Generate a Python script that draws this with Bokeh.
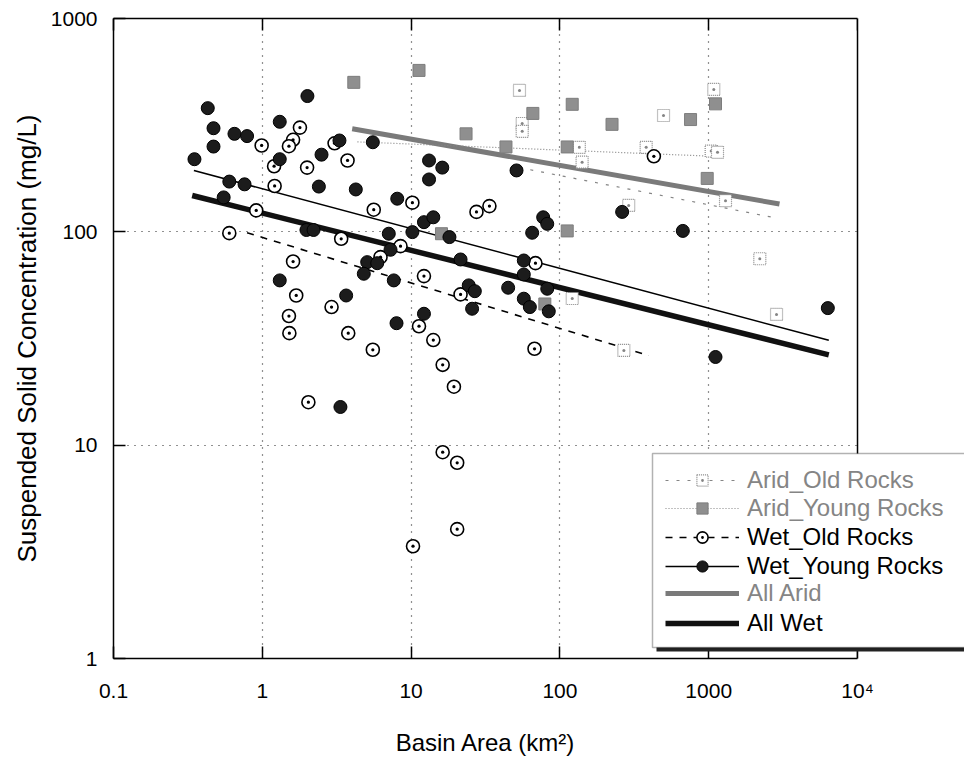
from bokeh.plotting import figure
from bokeh.models import (LogAxis, FixedTicker, Legend, LegendItem, BoxAnnotation, Range1d, Span)
from bokeh.embed import file_html
from bokeh.resources import INLINE

# ---------------- data ----------------
arid_old_area = [53.5, 55.8, 55.8, 135, 141, 497, 380, 1082, 1039, 1146, 290, 1297, 2205, 2856, 121, 269]
arid_old_ssc = [460, 322, 296, 249, 212, 351, 249, 465, 239, 236, 133, 140, 74.8, 41.0, 48.7, 27.8]

arid_young_area = [4.12, 11.3, 23.4, 43.4, 65.8, 121, 224, 112, 755, 1111, 977, 112, 16.0, 79.2]
arid_young_ssc = [502, 571, 288, 250, 359, 396, 319, 250, 336, 398, 178, 101, 98, 45.9]

wet_old_area = [1.79, 1.61, 1.51, 0.99, 3.06, 3.74, 1.20, 2.00, 1.21, 0.91,
                5.61, 0.60, 3.39, 6.23, 1.61, 1.69, 2.92, 1.51, 1.52, 3.78,
                5.53, 2.04, 10.2, 27.5, 33.6, 8.49, 68.5, 12.2, 21.5, 11.3,
                14.1, 16.3, 19.4, 67.5, 16.3, 20.4, 20.4, 10.3, 428]
wet_old_ssc = [308, 270, 252, 254, 260, 216, 203, 200, 164, 126,
               127, 98.6, 92.8, 76.1, 72.6, 50.3, 44.4, 40.3, 33.5, 33.5,
               28.0, 15.9, 137, 124, 132, 85.7, 71.3, 62.0, 50.9, 36.1,
               31.1, 23.8, 18.8, 28.3, 9.27, 8.27, 4.04, 3.36, 226]

wet_young_area = [0.43, 0.47, 0.47, 0.35, 0.65, 0.79, 2.01, 1.31, 1.31, 2.50,
                  3.30, 5.53, 0.60, 0.76, 0.55, 2.40, 4.25, 8.07, 1.98, 2.21,
                  7.08, 7.27, 5.07, 5.92, 4.81, 7.65, 1.31, 3.66, 3.35, 7.98,
                  13.2, 16.2, 13.2, 51.1, 12.2, 14.1, 10.2, 18.1, 65.1, 77.2,
                  82.2, 262, 21.5, 57.2, 57.2, 82.2, 44.9, 24.4, 26.8, 25.7,
                  12.2, 57.2, 62.8, 84.2, 670, 6317, 1111]
wet_young_ssc = [380, 306, 251, 219, 288, 281, 433, 328, 219, 230,
                 268, 263, 172, 167, 145, 163, 158, 143, 102, 102,
                 98, 82.4, 72.1, 71.3, 63.6, 59.2, 59.2, 50.3, 15.1, 37.3,
                 216, 200, 176, 194, 111, 117, 99.7, 94.5, 99, 117,
                 109, 124, 74.2, 73.4, 63.1, 54.1, 54.7, 56.1, 52.7, 43.6,
                 41.3, 48.6, 44.4, 42.4, 101, 43.9, 25.9]

# regression lines (end points)
all_wet_x = [0.338, 6412]
all_wet_y = [148, 26.5]
wet_young_fit_x = [0.347, 6412]
wet_young_fit_y = [194, 31.0]
wet_old_fit_x = [0.79, 396]
wet_old_fit_y = [99, 26.3]
all_arid_x = [4.02, 2991]
all_arid_y = [304, 135]
arid_young_fit_x = [4.36, 1078]
arid_young_fit_y = [264, 226]
arid_old_fit_x = [53.5, 2856]
arid_old_fit_y = [200, 116]

x_ticks = [0.1, 1, 10, 100, 1000, 10000]
x_tick_labels = ["0.1", "1", "10", "100", "1000", "10\u2074"]
y_ticks = [1, 10, 100, 1000]
y_tick_labels = ["1", "10", "100", "1000"]
x_min, x_max = 0.1, 10000
y_min, y_max = 1, 1000
x_view_max = 52360   # the drawing area runs on to the window edge (legend hangs over)

FONT = "Liberation Sans"
GRAY = "#858585"

p = figure(width=964, height=770, x_axis_type="log", y_axis_type="log",
           x_range=Range1d(x_min, x_view_max), y_range=Range1d(y_min, y_max),
           output_backend="svg", toolbar_location=None,
           min_border_left=113, min_border_right=0, min_border_top=18, min_border_bottom=112,
           background_fill_color="white", border_fill_color="white")
p.outline_line_color = None

# axes
p.xaxis.ticker = FixedTicker(ticks=x_ticks)
p.yaxis.ticker = FixedTicker(ticks=y_ticks)
p.xaxis.bounds = (x_min, x_max)
p.xaxis.major_label_overrides = {float(t): l for t, l in zip(x_ticks, x_tick_labels)}
p.yaxis.major_label_overrides = {float(t): l for t, l in zip(y_ticks, y_tick_labels)}
for ax in (p.xaxis[0], p.yaxis[0]):
    ax.major_tick_in = 12
    ax.major_tick_out = 0
    ax.minor_tick_in = 0
    ax.minor_tick_out = 0
    ax.axis_line_color = "black"
    ax.axis_line_width = 1.5
    ax.major_tick_line_width = 1.5
    ax.major_label_text_font = FONT
    ax.major_label_text_font_size = "21px"
    ax.major_label_text_color = "black"
    ax.axis_label_text_font = FONT
    ax.axis_label_text_font_style = "normal"
    ax.axis_label_text_color = "black"
# trailing no-break spaces keep the label centred under the plot box, not the wider drawing area
p.xaxis.axis_label = "Basin Area (km\u00b2)" + "\u00a0" * 16
p.yaxis.axis_label = "Suspended Solid Concentration (mg/L)"
p.xaxis.axis_label_text_font_size = "24px"
p.yaxis.axis_label_text_font_size = "26px"
p.xaxis.major_label_standoff = 20
p.xaxis.axis_label_standoff = 24
p.yaxis.major_label_standoff = 16
p.yaxis.axis_label_standoff = 6

top_ax = LogAxis(ticker=FixedTicker(ticks=x_ticks), bounds=(x_min, x_max),
                 major_label_text_font_size="9px", major_label_text_alpha=0.0,
                 major_tick_in=12, major_tick_out=0, minor_tick_in=0, minor_tick_out=0,
                 major_label_standoff=0, major_tick_line_width=1.5, axis_line_width=1.5)
p.add_layout(top_ax, "above")

# grid
p.grid.grid_line_color = "#222222"
p.grid.grid_line_dash = "1 6"
p.grid.grid_line_width = 1.2
p.xgrid.ticker = FixedTicker(ticks=x_ticks[:-1])
p.ygrid.ticker = FixedTicker(ticks=y_ticks)

# white cover for the area right of the plot box
cover = BoxAnnotation(left=x_max, fill_color="white", fill_alpha=1.0, line_alpha=0)
p.add_layout(cover)
right_edge = Span(location=x_max, dimension="height", line_color="black", line_width=1.5)
p.add_layout(right_edge)

# regression lines
r_all_arid = p.line(all_arid_x, all_arid_y, line_color="#7a7a7a", line_width=5)
r_arid_old_fit = p.line(arid_old_fit_x, arid_old_fit_y, line_color=GRAY, line_width=1.2, line_dash="3 8")
r_arid_young_fit = p.line(arid_young_fit_x, arid_young_fit_y, line_color=GRAY, line_width=1.2, line_dash="1 2")
r_all_wet = p.line(all_wet_x, all_wet_y, line_color="#111111", line_width=5.5)
r_wet_young_fit = p.line(wet_young_fit_x, wet_young_fit_y, line_color="black", line_width=1.6)
r_wet_old_fit = p.line(wet_old_fit_x, wet_old_fit_y, line_color="black", line_width=1.6, line_dash="7 7")

# points
r_arid_old = p.scatter(arid_old_area, arid_old_ssc, marker="square_dot", size=12,
                       fill_color="white", line_color=GRAY, line_width=1.2, line_dash="1 1")
r_wet_old = p.scatter(wet_old_area, wet_old_ssc, marker="circle_dot", size=13,
                      fill_color="white", line_color="black", line_width=1.6)
r_arid_young = p.scatter(arid_young_area, arid_young_ssc, marker="square", size=12,
                         fill_color="#8f8f8f", line_color="#7d7d7d", line_width=1)
r_wet_young = p.scatter(wet_young_area, wet_young_ssc, marker="circle", size=13,
                        fill_color="#1c1c1c", line_color="black", line_width=1)

# legend frame (with a drop shadow)
shadow = BoxAnnotation(left=543, right=900, top=201, bottom=7,
                       left_units="screen", right_units="screen", top_units="screen", bottom_units="screen",
                       fill_color="#222222", fill_alpha=1.0, line_alpha=0)
frame_box = BoxAnnotation(left=539, right=900, top=205, bottom=11,
                          left_units="screen", right_units="screen", top_units="screen", bottom_units="screen",
                          fill_color="white", fill_alpha=1.0, line_color="black", line_width=1.5)
p.add_layout(shadow)
p.add_layout(frame_box)

legend_rows = [
    ("Arid_Old Rocks", [r_arid_old_fit, r_arid_old], GRAY, 164),
    ("Arid_Young Rocks", [r_arid_young_fit, r_arid_young], GRAY, 136),
    ("Wet_Old Rocks", [r_wet_old_fit, r_wet_old], "black", 107),
    ("Wet_Young Rocks", [r_wet_young_fit, r_wet_young], "black", 78),
    ("All Arid", [r_all_arid], GRAY, 51),
    ("All Wet", [r_all_wet], "black", 21),
]
for label, rends, color, vy in legend_rows:
    lg = Legend(items=[LegendItem(label=label, renderers=rends)], location=(552, vy),
                border_line_alpha=0, background_fill_alpha=0, padding=0, margin=0, spacing=0,
                glyph_width=74, glyph_height=28, label_height=28, label_standoff=8,
                label_text_font=FONT, label_text_font_size="24px", label_text_color=color)
    p.add_layout(lg)

open("out.html", "w").write(file_html(p, INLINE))
